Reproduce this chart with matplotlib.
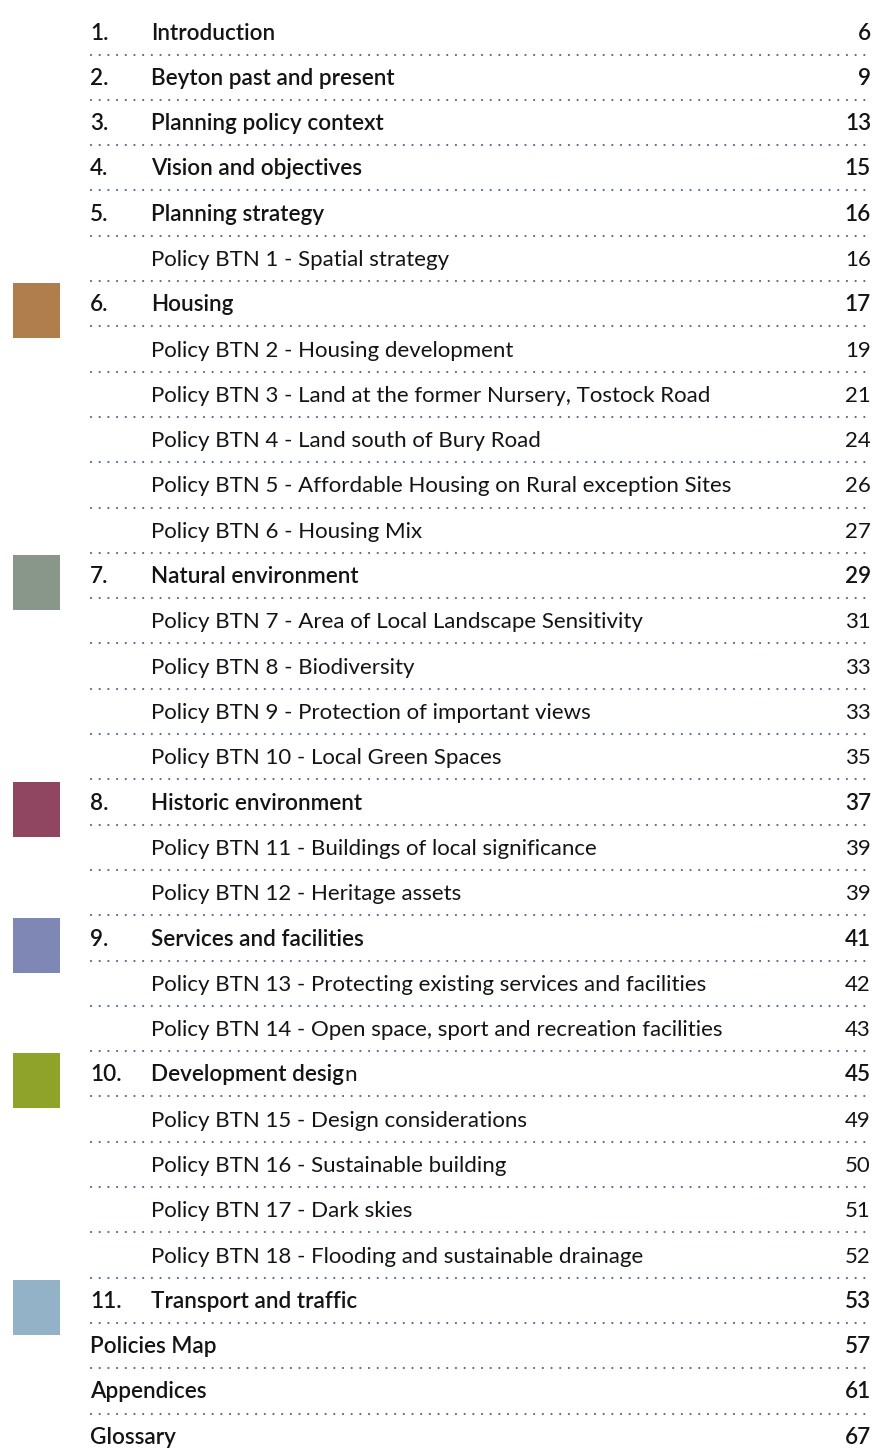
import matplotlib
matplotlib.use("Agg")
import matplotlib.pyplot as plt
from matplotlib.patches import Rectangle

# ---- data ----
numbers = ["1.", "2.", "3.", "4.", "5.", "", "6.", "", "", "", "", "", "7.", "", "", "", "",
           "8.", "", "", "9.", "", "", "10.", "", "", "", "", "11.", "", "", ""]
titles = ["Introduction", "Beyton past and present", "Planning policy context",
          "Vision and objectives", "Planning strategy",
          "Policy BTN 1 - Spatial strategy",
          "Housing",
          "Policy BTN 2 - Housing development",
          "Policy BTN 3 - Land at the former Nursery, Tostock Road",
          "Policy BTN 4 - Land south of Bury Road",
          "Policy BTN 5 - Affordable Housing on Rural exception Sites",
          "Policy BTN 6 - Housing Mix",
          "Natural environment",
          "Policy BTN 7 - Area of Local Landscape Sensitivity",
          "Policy BTN 8 - Biodiversity",
          "Policy BTN 9 - Protection of important views",
          "Policy BTN 10 - Local Green Spaces",
          "Historic environment",
          "Policy BTN 11 - Buildings of local significance",
          "Policy BTN 12 - Heritage assets",
          "Services and facilities",
          "Policy BTN 13 - Protecting existing services and facilities",
          "Policy BTN 14 - Open space, sport and recreation facilities",
          "Development desig",
          "Policy BTN 15 - Design considerations",
          "Policy BTN 16 - Sustainable building",
          "Policy BTN 17 - Dark skies",
          "Policy BTN 18 - Flooding and sustainable drainage",
          "Transport and traffic",
          "Policies Map", "Appendices", "Glossary"]
pages = [6, 9, 13, 15, 16, 16, 17, 19, 21, 24, 26, 27, 29, 31, 33, 33, 35,
         37, 39, 39, 41, 42, 43, 45, 49, 50, 51, 52, 53, 57, 61, 67]
is_heading = [True, True, True, True, True, False, True, False, False, False, False, False,
              True, False, False, False, False, True, False, False, True, False, False,
              True, False, False, False, False, True, True, True, True]
is_policy = [t.startswith("Policy BTN") for t in titles]
chapter_colors = {"Housing": "#B07E4C", "Natural environment": "#88978A",
                  "Historic environment": "#904660", "Services and facilities": "#7F88B5",
                  "Development desig": "#8FA22A", "Transport and traffic": "#93B2C8"}

# ---- layout ----
W, H = 887, 1452
fig = plt.figure(figsize=(W / 100, H / 100), dpi=100)
ax = fig.add_axes([0, 0, 1, 1])
ax.set_xlim(0, W)
ax.set_ylim(H, 0)
ax.axis("off")

FONT = "Lato"
FS_HEAD = 16.2
FS_POL = 16.0
TXT = "#141414"
base0, pitch = 39.5, 45.3
x_num, x_title, x_page = 90, 151, 871

for i, (num, title, pg, head) in enumerate(zip(numbers, titles, pages, is_heading)):
    yb = base0 + i * pitch
    w = "semibold" if head else "normal"
    fs = FS_HEAD if head else FS_POL
    xt = x_title if (num or is_policy[i]) else x_num
    if num:
        ax.text(x_num, yb, num, fontsize=fs, family=FONT, fontweight=w, color=TXT, va="baseline")
    t = ax.text(xt, yb, title, fontsize=fs, family=FONT, fontweight=w, color=TXT, va="baseline")
    if title == "Development desig":
        ax.annotate("n", xy=(1, 0), xycoords=t, va="bottom", ha="left",
                    fontsize=fs, family=FONT, fontweight="normal", color=TXT)
    ax.text(x_page, yb, str(pg), fontsize=fs, family=FONT, fontweight=w, color=TXT,
            va="baseline", ha="right")
    if title in chapter_colors:
        ax.add_patch(Rectangle((13, yb - 28), 47, 55, facecolor=chapter_colors[title],
                               edgecolor="none"))
    if i < len(titles) - 1:
        ax.plot([x_num + 1, x_page + 1], [yb + 15, yb + 15], color="#566A92", lw=1.6,
                dashes=(0.01, 3.9), dash_capstyle="round", solid_capstyle="round")

fig.savefig("out.png", dpi=100)
